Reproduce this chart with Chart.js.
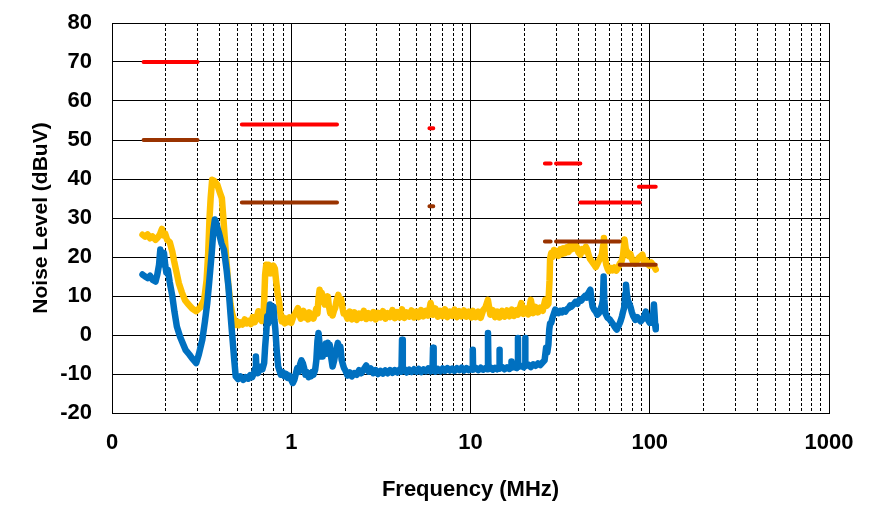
<!DOCTYPE html>
<html>
<head>
<meta charset="utf-8">
<script src="https://cdn.jsdelivr.net/npm/chart.js@4.4.0/dist/chart.umd.min.js"></script>
<style>
  html, body { margin: 0; padding: 0; background: #fff; }
  #chart { display: block; }
</style>
</head>
<body>
<canvas id="chart" width="877" height="510"></canvas>
<script>
// peak trace, MHz / dBuV
const peakFreq = [
  0.148, 0.153, 0.158, 0.163, 0.168, 0.175, 0.18, 0.185, 0.19, 0.194, 0.198, 0.203, 0.21, 0.217, 0.222, 0.228,
  0.236, 0.245, 0.255, 0.265, 0.28, 0.295, 0.31, 0.327, 0.337, 0.344, 0.35, 0.355, 0.362, 0.372, 0.387, 0.4,
  0.41, 0.418, 0.425, 0.435, 0.445, 0.458, 0.468, 0.48,
  0.49, 0.5, 0.51, 0.52, 0.535, 0.55, 0.565, 0.58, 0.595, 0.61, 0.625, 0.64, 0.655, 0.67, 0.685, 0.7, 0.708,
  0.715, 0.725, 0.74, 0.75, 0.765, 0.78, 0.795, 0.81, 0.825, 0.84, 0.856, 0.87, 0.885, 0.9, 0.92, 0.94, 0.96,
  0.98, 1.0, 1.03, 1.06, 1.09, 1.11, 1.13, 1.15, 1.17, 1.19, 1.21, 1.24, 1.26, 1.28, 1.3, 1.33, 1.36, 1.38,
  1.4, 1.42, 1.44, 1.46, 1.48, 1.5, 1.52, 1.54, 1.56, 1.58, 1.6, 1.62, 1.65, 1.68, 1.7, 1.73, 1.76, 1.79,
  1.83, 1.86, 1.9, 1.93, 1.96,
  2.0, 2.06, 2.12, 2.18, 2.25, 2.32, 2.39, 2.46, 2.54, 2.62, 2.7, 2.78, 2.87, 2.96, 3.05, 3.15, 3.25, 3.35,
  3.45, 3.56, 3.67, 3.78, 3.9, 4.02, 4.15, 4.28, 4.41, 4.55, 4.69, 4.84, 4.99, 5.14, 5.3, 5.47, 5.64, 5.81,
  5.99, 6.18, 6.37, 6.57, 6.78, 6.99, 7.2, 7.43, 7.66, 7.9, 8.14, 8.4, 8.66, 8.93, 9.2, 9.49, 9.79, 10.1,
  10.3, 10.7, 11.05, 11.4, 11.75, 12.1, 12.5, 12.9, 13.3, 13.7, 14.1, 14.5, 15.0, 15.5, 16.0, 16.5, 17.0,
  17.5, 18.1, 18.4, 19.2, 19.8, 20.2, 21.0, 21.7, 22.4, 23.1, 23.8, 24.5, 25.3, 26.1,
  26.6, 27.2, 27.6, 27.8, 28.2, 28.7, 29.2, 29.7, 30.3, 31.0, 31.7, 32.4, 33.0, 33.8, 34.5, 35.3, 35.9, 36.7,
  37.4, 38.2, 39.0, 40.0, 41.0, 42.0, 43.0, 44.0, 44.7, 45.6, 46.4, 47.6, 49.0, 50.0, 51.0, 52.0, 53.0, 54.0,
  55.0, 55.5, 56.2, 57.2, 58.2, 59.1, 60.5, 62.0, 63.5, 65.0, 66.5, 68.0, 69.5, 71.0, 72.3, 73.5, 75.0, 76.5,
  78.0, 79.5, 81.0, 83.0, 85.0, 87.0, 89.0, 91.0, 93.0, 95.0, 97.0, 99.6, 102.0, 104.0, 106.0, 108.0
];
const peakLevel = [
  25.7, 25.2, 25.8, 24.8, 25.3, 24.4, 25.0, 25.8, 27.2, 25.5, 26.0, 24.4, 23.8, 21.4, 19.0, 16.5,
  13.3, 11.0, 9.0, 8.0, 6.8, 6.1, 7.0, 9.1, 14.0, 21.0, 30.0, 35.0, 39.8, 39.5, 38.5, 36.5,
  35.1, 30.0, 25.3, 19.0, 13.3, 8.0, 5.5, 3.9,
  2.6, 3.5, 2.5, 3.2, 2.7, 4.0, 3.0, 3.6, 2.8, 4.6, 3.3, 4.2, 6.1, 4.5, 3.6, 4.8, 10.0,
  15.5, 18.0, 17.0, 18.0, 15.8, 17.0, 17.8, 17.0, 13.5, 10.5, 8.5, 5.5, 3.5, 4.5, 3.0, 4.2, 3.3,
  4.5, 3.1, 4.8, 5.8, 6.9, 5.2, 4.2, 5.5, 6.2, 4.5, 5.0, 4.0, 5.8, 4.6, 5.2, 4.2, 5.6, 6.8,
  5.5, 9.5, 11.6, 10.0, 10.8, 8.5, 9.6, 7.8, 9.8, 8.2, 9.9, 7.5, 5.6, 6.5, 5.0, 6.2, 7.0, 8.8,
  10.3, 8.5, 9.2, 7.0, 5.5,
  5.6, 4.2, 6.0, 4.0, 5.8, 3.9, 5.5, 4.4, 6.2, 4.1, 5.6, 4.3, 5.9, 4.0, 5.7, 4.5, 6.1, 4.2,
  5.6, 4.6, 6.4, 4.3, 5.9, 4.5, 6.6, 4.4, 5.8, 4.7, 6.3, 4.5, 6.0, 4.6, 6.4, 4.8, 6.2, 5.0,
  8.2, 5.2, 6.8, 4.7, 6.2, 4.8, 6.6, 4.6, 6.0, 4.9, 6.5, 4.6, 6.1, 4.8, 6.3, 4.7, 6.0, 4.5,
  6.2, 4.6, 6.0, 4.4, 6.3, 7.0, 9.0, 5.2, 6.4, 4.6, 6.0, 4.5, 6.2, 4.7, 6.3, 4.8, 6.5,
  4.9, 6.4, 5.2, 8.2, 5.4, 6.8, 5.3, 9.0, 5.6, 7.2, 5.8, 7.0, 6.2, 9.0,
  7.5, 8.0, 14.0, 19.5, 21.0, 20.0, 21.8, 20.5, 21.5, 20.3, 22.0, 20.8, 22.2, 21.0, 22.5, 21.3, 23.0, 22.0,
  23.4, 22.2, 22.8, 21.2, 20.6, 22.0, 21.5, 22.6, 22.0, 20.5, 19.5, 18.8, 18.0, 17.4, 18.2, 19.0, 19.8, 20.5,
  23.0, 24.9, 20.0, 18.0, 17.0, 16.4, 17.2, 16.6, 17.3, 16.5, 17.2, 18.3, 18.8, 20.5, 24.5, 22.0, 21.2, 20.2,
  20.8, 19.5, 18.6, 18.3, 19.2, 19.8, 20.2, 20.6, 18.5, 19.2, 18.2, 17.8, 18.6, 18.0, 17.5, 16.8
];

// average trace, MHz / dBuV
const avgFreq = [
  0.148, 0.153, 0.158, 0.163, 0.168, 0.175, 0.179, 0.183, 0.186, 0.189, 0.192, 0.195, 0.198, 0.201, 0.205,
  0.21, 0.217, 0.223, 0.23, 0.24, 0.257, 0.27, 0.28, 0.295, 0.305, 0.319, 0.33, 0.34, 0.35, 0.36, 0.368,
  0.375, 0.38, 0.39, 0.395, 0.408, 0.421, 0.435, 0.446, 0.458, 0.469, 0.48, 0.49, 0.505, 0.52, 0.54, 0.557,
  0.575, 0.59, 0.605, 0.62, 0.63, 0.635, 0.64, 0.65, 0.66, 0.675, 0.69, 0.706, 0.715, 0.725, 0.735, 0.745,
  0.76, 0.77, 0.78, 0.795, 0.805, 0.815, 0.83, 0.845, 0.857, 0.875, 0.895, 0.915, 0.935, 0.955, 0.975, 1.0,
  1.02, 1.04, 1.06, 1.08, 1.1, 1.12, 1.14, 1.16, 1.18, 1.2, 1.22, 1.25, 1.27, 1.29, 1.31, 1.33, 1.36, 1.38,
  1.4, 1.42, 1.44, 1.46, 1.48, 1.5, 1.52, 1.54, 1.56, 1.58, 1.6, 1.62, 1.64, 1.67, 1.7, 1.73, 1.76, 1.79,
  1.82, 1.85, 1.88, 1.91, 1.94, 1.97, 2.0,
  2.06, 2.12, 2.18, 2.25, 2.32, 2.39, 2.46, 2.54, 2.62, 2.7, 2.78, 2.87, 2.96, 3.05, 3.15, 3.25, 3.35, 3.45,
  3.56, 3.67, 3.78, 3.9, 4.02, 4.12, 4.15, 4.19, 4.28, 4.41, 4.55, 4.69, 4.84, 4.99, 5.14, 5.3, 5.47, 5.64,
  5.81, 5.99, 6.14, 6.18, 6.23, 6.37, 6.57, 6.78, 6.99, 7.2, 7.43, 7.66, 7.9, 8.14, 8.4, 8.66, 8.93, 9.2,
  9.49, 9.79, 10.1, 10.27, 10.3, 10.34, 10.7, 11.05, 11.4, 11.75, 12.1, 12.45, 12.52, 12.6, 12.9, 13.3, 13.7,
  14.1, 14.45, 14.5, 14.56, 15.0, 15.5, 16.0, 16.5, 16.85, 16.9, 16.95, 17.5, 18.1, 18.35, 18.4, 18.45, 19.2,
  19.8, 20.15, 20.2, 20.25, 21.0, 21.7, 22.4, 23.1, 23.8, 24.5, 25.3, 25.9, 26.4, 26.8, 27.2, 27.5, 27.8,
  28.2, 28.7, 29.2, 29.7, 30.3, 31.0, 31.7, 32.4, 33.0, 33.8, 34.5, 35.3, 36.0, 36.6, 37.5, 38.5, 39.5, 40.5,
  41.5, 42.5, 43.5, 44.5, 45.5, 46.6, 47.2, 48.0, 49.0, 50.0, 51.0, 52.0, 53.0, 54.0, 54.8, 55.3, 55.8, 56.5,
  58.0, 59.0, 60.0, 61.5, 63.0, 64.3, 65.5, 66.8, 68.0, 69.0, 70.0, 71.0, 72.0, 73.0, 73.7, 74.5, 75.5, 77.0,
  78.0, 79.5, 81.0, 83.0, 85.0, 87.0, 89.0, 91.0, 93.0, 95.0, 96.5, 98.0, 100.0, 102.0, 104.0, 105.5, 106.5,
  107.2, 108.0
];
const avgLevel = [
  15.5, 15.0, 14.6, 15.2, 14.2, 13.7, 15.5, 18.0, 21.9, 19.0, 18.2, 21.0, 18.0, 16.0, 16.7,
  13.5, 10.0, 6.0, 2.2, -0.5, -3.8, -5.0, -6.0, -7.2, -5.0, -1.2, 3.5, 8.2, 14.5, 21.0, 27.0,
  29.6, 29.0, 27.0, 26.2, 23.5, 21.9, 17.0, 12.5, 5.5, -0.4, -6.0, -10.6, -11.3, -10.6, -11.5, -10.8,
  -11.2, -10.3, -10.8, -9.7, -8.5, -5.5, -8.8, -9.8, -9.2, -8.2, -8.8, -7.2, -3.0, 0.5, 4.8, 3.0,
  7.8, 4.5, 6.0, 7.3, 4.0, 1.5, -4.0, -8.0, -8.9, -10.2, -9.5, -10.6, -10.0, -11.0, -10.4, -11.5,
  -12.3, -11.5, -10.0, -8.5, -9.5, -7.5, -6.5, -7.2, -8.5, -10.2, -9.5, -10.8, -9.8, -10.6, -9.5, -10.2, -8.9, -6.5,
  -1.5, 0.5, -2.5, -5.5, -2.8, -5.5, -3.0, -4.6, -2.2, -4.8, -2.0, -3.5, -2.5, -5.8, -8.1, -6.8, -5.0, -3.5,
  -2.0, -4.0, -3.0, -6.3, -7.5, -8.5, -9.0,
  -10.4, -9.6, -10.6, -9.8, -10.2, -9.0, -9.8, -8.8, -7.8, -9.4, -8.6, -9.8, -9.0, -10.0, -9.2, -9.9, -9.1, -9.8,
  -9.0, -9.7, -9.0, -9.6, -8.9, -9.4, -1.2, -9.2, -8.8, -9.6, -8.9, -9.5, -8.8, -9.4, -8.7, -9.5, -8.8, -9.3,
  -8.6, -9.3, -8.8, -3.3, -8.9, -9.4, -8.7, -9.3, -8.6, -9.2, -8.5, -9.1, -8.6, -9.2, -8.5, -9.0, -8.4, -9.1,
  -8.5, -9.0, -8.6, -8.9, -3.8, -8.8, -8.4, -9.0, -8.4, -8.9, -8.5, -8.8, 0.5, -8.7, -8.3, -8.9, -8.4,
  -8.8, -8.4, -3.8, -8.6, -8.2, -8.8, -8.3, -8.7, -8.2, -6.8, -8.4, -8.2, -8.5, -8.0, -0.8, -8.2, -7.9,
  -8.3, -7.8, -0.8, -8.0, -7.6, -8.2, -7.5, -7.9, -7.3, -7.7, -7.0, -6.5, -3.3, -4.5, -2.5, 1.4, 3.0,
  3.1, 4.5, 5.5, 6.5, 6.1, 5.6, 6.2, 5.8, 6.3, 6.0, 6.6, 6.9, 7.6, 7.3, 7.8, 8.5, 8.0, 9.0,
  8.8, 9.5, 10.0, 9.6, 10.8, 11.6, 9.5, 7.3, 6.5, 6.0, 5.2, 5.6, 6.5, 7.5, 9.0, 15.0, 9.0, 5.6,
  4.5, 4.2, 3.9, 3.2, 2.5, 1.8, 1.4, 2.2, 3.0, 3.8, 4.8, 6.0, 7.0, 10.5, 12.9, 10.5, 8.8, 8.0,
  7.3, 5.8, 4.8, 3.9, 4.6, 4.0, 3.5, 4.0, 4.8, 6.0, 5.0, 3.8, 3.1, 3.2, 4.0, 7.8, 5.0,
  2.5, 1.5
];

// limit segments (peak = red, average = brown)
const peakLimitFrom = [0.15, 0.53, 5.9, 26, 30, 41, 87];
const peakLimitTo = [0.3, 1.8, 6.2, 28, 41, 88, 108];
const peakLimitLevel = [70, 54, 53, 44, 44, 34, 38];
const avgLimitFrom = [0.15, 0.53, 5.9, 26, 30, 68];
const avgLimitTo = [0.3, 1.8, 6.2, 28, 68, 108];
const avgLimitLevel = [50, 34, 33, 24, 24, 18];

const xTicks = [0.1, 1, 10, 100, 1000];
const xTickLabels = ['0', '1', '10', '100', '1000'];
const minorSteps = [2, 3, 4, 5, 6, 7, 8, 9];

const xMinor = [];
xTicks.slice(0, -1).forEach(d => minorSteps.forEach(m => xMinor.push(d * m)));

function zip(xs, ys) {
  return xs.map((x, i) => ({x: x, y: ys[i]}));
}

function segments(from, to, level) {
  const pts = [];
  from.forEach((f, i) => {
    pts.push({x: f, y: level[i]}, {x: to[i], y: level[i]}, {x: to[i], y: null});
  });
  return pts;
}

const font = 'Liberation Sans, Arial, sans-serif';

new Chart(document.getElementById('chart'), {
  type: 'line',
  data: {
    datasets: [
      {
        data: segments(peakLimitFrom, peakLimitTo, peakLimitLevel),
        borderColor: '#FF0000', borderWidth: 4, borderCapStyle: 'round'
      },
      {
        data: segments(avgLimitFrom, avgLimitTo, avgLimitLevel),
        borderColor: '#993300', borderWidth: 4, borderCapStyle: 'round'
      },
      {
        data: zip(avgFreq, avgLevel),
        borderColor: '#0070C0', borderWidth: 6.5, borderCapStyle: 'round', borderJoinStyle: 'round'
      },
      {
        data: zip(peakFreq, peakLevel),
        borderColor: '#FFC000', borderWidth: 6.5, borderCapStyle: 'round', borderJoinStyle: 'round'
      }
    ]
  },
  options: {
    responsive: false,
    animation: false,
    spanGaps: false,
    elements: { point: { radius: 0 }, line: { tension: 0 } },
    layout: { padding: { top: 23, right: 48, bottom: 0, left: 0 } },
    plugins: { legend: { display: false }, tooltip: { enabled: false } },
    scales: {
      x: {
        type: 'logarithmic', min: 0.1, max: 1000, position: 'bottom',
        afterBuildTicks: s => { s.ticks = xTicks.map(v => ({value: v})); },
        afterFit: s => { s.height = 97; },
        ticks: {
          callback: (v, i) => xTickLabels[i],
          autoSkip: false, maxRotation: 0, padding: 17,
          color: '#000', font: { family: font, size: 22, weight: 'bold' }
        },
        grid: { color: '#000', lineWidth: 1, drawTicks: false },
        border: { color: '#000', width: 1 },
        title: {
          display: true, text: 'Frequency (MHz)', color: '#000',
          font: { family: font, size: 22, weight: 'bold' },
          padding: { top: 0, bottom: 7 }
        }
      },
      xMinor: {
        type: 'logarithmic', min: 0.1, max: 1000, position: 'bottom',
        afterBuildTicks: s => { s.ticks = xMinor.map(v => ({value: v})); },
        afterFit: s => { s.height = 0; },
        ticks: { display: false },
        grid: { color: '#000', lineWidth: 1, drawTicks: false },
        border: { display: false, dash: [3, 2] }
      },
      y: {
        min: -20, max: 80,
        afterFit: s => { s.width = 112; s.paddingTop = 0; s.paddingBottom = 0; },
        ticks: {
          stepSize: 10, padding: 20,
          color: '#000', font: { family: font, size: 22, weight: 'bold' }
        },
        grid: { color: '#000', lineWidth: 1, drawTicks: false },
        border: { color: '#000', width: 1 },
        title: {
          display: true, text: 'Noise Level (dBuV)', color: '#000',
          font: { family: font, size: 21, weight: 'bold' },
          padding: { top: 29, bottom: 0 }
        }
      }
    }
  }
});
</script>
</body>
</html>
